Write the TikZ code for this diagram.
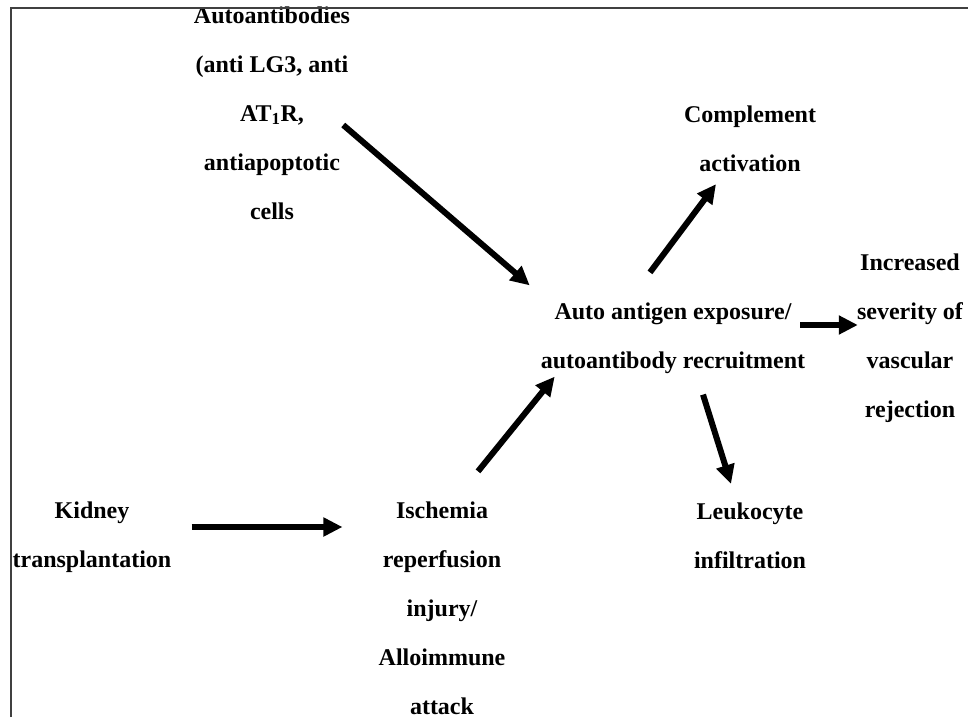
\documentclass[tikz,border=0pt]{standalone}
\usepackage{fontspec}
\setmainfont{Liberation Serif}
\usetikzlibrary{arrows.meta,calc}

\tikzset{
  lbl/.style={align=center, inner sep=0pt, font=\bfseries\fontsize{24}{49}\selectfont},
  flow/.style={-{Triangle[length=19pt,width=18pt]}, line width=6pt},
}

\begin{document}
\begin{tikzpicture}[x=1pt, y=-1pt]
      \useasboundingbox (0,0) rectangle (968,717);

      \node [lbl] (abs)  at (272,113) {Autoantibodies\\(anti LG3, anti\\AT\textsubscript{1}R,\\antiapoptotic\\cells};
      \node [lbl] (comp) at (750,139) {Complement\\activation};
      \node [lbl] (expo) at (673,338) {Auto antigen exposure/\\autoantibody recruitment};
      \node [lbl] (sev)  at (910,338) {Increased\\severity of\\vascular\\rejection};
      \node [lbl] (kid)  at (92,537)  {Kidney\\transplantation};
      \node [lbl] (isch) at (442,608) {Ischemia\\reperfusion\\injury/\\Alloimmune\\attack};
      \node [lbl] (leuk) at (750,536) {Leukocyte\\infiltration};

      \draw [flow] ($(abs.east)+(-7,12)$) to ($(expo.north west)+(-11,-17)$);
      \draw [flow] ($(expo.north)+(-23,-30)$) to ($(comp.south)+(-34,12)$);
      \draw [flow] ($(expo.east)+(-5,-13)$) to ($(sev.west |- expo.east)+(1,-13)$);
      \draw [flow] ($(expo.south)+(30,21)$) to ($(leuk.north)+(-19,-19)$);
      \draw [flow] ($(isch.north)+(36,-30)$) to ($(expo.south west)+(14,3)$);
      \draw [flow] ($(kid.east)+(20,-10)$) to ($(isch.west |- kid.east)+(-36,-10)$);

      % frame
      \draw [black!75, line width=2pt] (10.5,717) -- (10.5,8.5) -- (968,8.5);
\end{tikzpicture}
\end{document}
